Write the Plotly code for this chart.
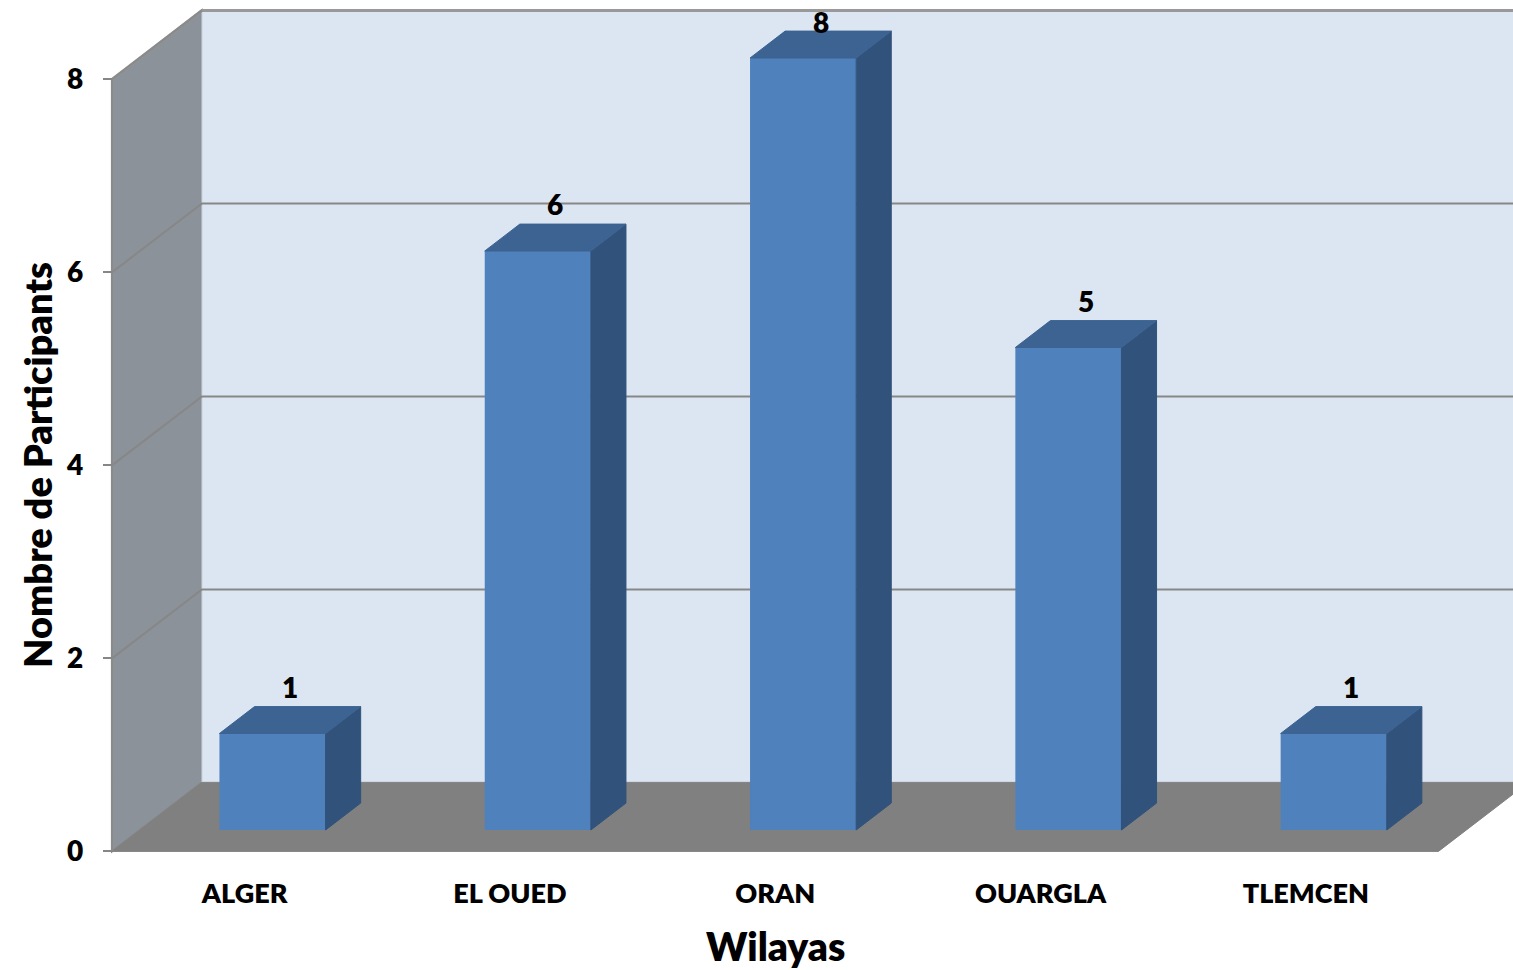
import plotly.graph_objects as go

# ---------------- data ----------------
categories = ["ALGER", "EL OUED", "ORAN", "OUARGLA", "TLEMCEN"]
values = [1, 6, 8, 5, 1]
y_ticks = [0, 2, 4, 6, 8]
x_title = "Wilayas"
y_title = "Nombre de Participants"

# ---------------- geometry / style ----------------
W, H = 1513, 970
cat_px0 = 272.5      # pixel x of first bar centre (bar plane)
cat_step = 265.3     # pixels per category
val_px0 = 830.0      # pixel y of value 0 (bar plane)
val_step = 96.5      # pixels per unit
depth_px = (90.0, -69.0)   # full depth vector of the floor
fb = 0.31            # depth fraction of bar front faces
bd = 0.39            # bar depth fraction
bar_w = 0.4
wall_top = y_ticks[-1]
x_lo, x_hi = -0.5, len(categories) - 0.5

FONT = "Lato"
WEIGHT = 800
C_FRONT = "#4f81bd"
C_TOP = "#3c6392"
C_SIDE = "#31527b"
C_BACK = "#dce6f2"
C_LEFT = "#8b929a"
C_FLOOR = "#808080"
C_GRID = "#878787"

x_range = [(0 - cat_px0) / cat_step, (W - cat_px0) / cat_step]
y_range = [(val_px0 - H) / val_step, val_px0 / val_step]
Dx = depth_px[0] / cat_step
Dy = -depth_px[1] / val_step


def P(x, v, z):
    """front-plane category x, value v, depth z (0 front .. 1 back) -> axis coords"""
    return x + (z - fb) * Dx, v + (z - fb) * Dy


def path(points):
    return "M " + " L ".join(f"{a:.5f},{b:.5f}" for a, b in points) + " Z"


def line_path(points):
    return "M " + " L ".join(f"{a:.5f},{b:.5f}" for a, b in points)


shapes = []
# left wall
shapes.append(dict(type="path", xref="x", yref="y", layer="below",
                   path=path([P(x_lo, 0, 0), P(x_lo, wall_top, 0), P(x_lo, wall_top, 1), P(x_lo, 0, 1)]),
                   fillcolor=C_LEFT, line=dict(color="#8a8a8a", width=2)))
# back wall
shapes.append(dict(type="path", xref="x", yref="y", layer="below",
                   path=path([P(x_lo, 0, 1), P(x_hi, 0, 1), P(x_hi, wall_top, 1), P(x_lo, wall_top, 1)]),
                   fillcolor=C_BACK, line=dict(color="#c5d0dd", width=1)))
# floor
shapes.append(dict(type="path", xref="x", yref="y", layer="below",
                   path=path([P(x_lo, 0, 0), P(x_hi, 0, 0), P(x_hi, 0, 1), P(x_lo, 0, 1)]),
                   fillcolor=C_FLOOR, line=dict(color=C_FLOOR, width=1)))
# gridlines (left wall diagonal + back wall)
for t in y_ticks[1:]:
    shapes.append(dict(type="path", xref="x", yref="y", layer="below",
                       path=line_path([P(x_lo, t, 0), P(x_lo, t, 1), P(x_hi, t, 1)]),
                       line=dict(color=C_GRID if t != wall_top else "#999999",
                                 width=2 if t != wall_top else 3)))
# left wall outline (front edge + top)
shapes.append(dict(type="path", xref="x", yref="y", layer="below",
                   path=line_path([P(x_lo, 0, 0), P(x_lo, wall_top, 0), P(x_lo, wall_top, 1)]),
                   line=dict(color="#8a8a8a", width=2)))

fig = go.Figure()

idx = list(range(len(categories)))
fig.add_trace(go.Bar(x=idx, y=values, width=bar_w, marker=dict(color=C_FRONT, line=dict(width=0)),
                     hoverinfo="skip", showlegend=False))

bx, by = bd * Dx, bd * Dy
side_x, side_y, top_x, top_y = [], [], [], []
for i, v in zip(idx, values):
    r = i + bar_w / 2
    l = i - bar_w / 2
    side_x += [r, r, r + bx, r + bx, r, None]
    side_y += [0, v, v + by, by, 0, None]
    top_x += [l, r, r + bx, l + bx, l, None]
    top_y += [v, v, v + by, v + by, v, None]

fig.add_trace(go.Scatter(x=side_x, y=side_y, fill="toself", fillcolor=C_SIDE, mode="lines",
                         line=dict(color=C_SIDE, width=1), hoverinfo="skip", showlegend=False))
fig.add_trace(go.Scatter(x=top_x, y=top_y, fill="toself", fillcolor=C_TOP, mode="lines",
                         line=dict(color=C_TOP, width=1), hoverinfo="skip", showlegend=False))
# carrier for the front-plane axes
fig.add_trace(go.Scatter(x=idx, y=[0] * len(idx), xaxis="x2", yaxis="y2", mode="none",
                         hoverinfo="skip", showlegend=False))

annotations = []
lab_off = 20 / val_step
lab_max = y_range[1] - 22 / val_step
for i, v in zip(idx, values):
    annotations.append(dict(x=i + bx / 2, y=min(v + by + lab_off, lab_max), xref="x", yref="y",
                            text=str(v), showarrow=False, xanchor="center", yanchor="middle",
                            font=dict(family=FONT, size=28, color="black", weight=WEIGHT)))

annotations.append(dict(x=775 / W, y=1 - 946 / H, xref="paper", yref="paper", text=x_title,
                        showarrow=False, xanchor="center", yanchor="middle",
                        font=dict(family=FONT, size=39, color="black", weight=WEIGHT)))
annotations.append(dict(x=37 / W, y=1 - 465 / H, xref="paper", yref="paper", text=y_title,
                        showarrow=False, xanchor="center", yanchor="middle", textangle=-90,
                        font=dict(family=FONT, size=38, color="black", weight=WEIGHT)))

front_x_paper = (P(x_lo, 0, 0)[0] - x_range[0]) / (x_range[1] - x_range[0])
front_y_paper = (P(x_lo, 0, 0)[1] - y_range[0]) / (y_range[1] - y_range[0])

fig.update_layout(
    width=W, height=H,
    margin=dict(l=0, r=0, t=0, b=0, pad=0),
    paper_bgcolor="white", plot_bgcolor="rgba(0,0,0,0)",
    showlegend=False,
    shapes=shapes,
    annotations=annotations,
    xaxis=dict(range=x_range, visible=False, fixedrange=True, domain=[0, 1]),
    yaxis=dict(range=y_range, visible=False, fixedrange=True, domain=[0, 1]),
    xaxis2=dict(range=[x_range[0] + fb * Dx, x_range[1] + fb * Dx], overlaying="x",
                anchor="free", position=front_y_paper, showgrid=False, zeroline=False,
                showline=False, ticks="", tickvals=idx, ticktext=categories,
                ticklabelstandoff=24, fixedrange=True,
                tickfont=dict(family=FONT, size=27, color="black", weight=WEIGHT)),
    yaxis2=dict(range=[y_range[0] + fb * Dy, y_range[1] + fb * Dy], overlaying="y",
                anchor="free", position=front_x_paper, side="left", showgrid=False,
                zeroline=False, showline=False, ticks="outside", ticklen=9, tickwidth=2,
                tickcolor="#868686", tickvals=y_ticks, ticklabelstandoff=14, fixedrange=True,
                tickfont=dict(family=FONT, size=28, color="black", weight=WEIGHT)),
)

fig.write_html("out.html", config={"displayModeBar": False},
               post_script="document.body.style.margin='0';document.body.style.overflow='hidden';")
